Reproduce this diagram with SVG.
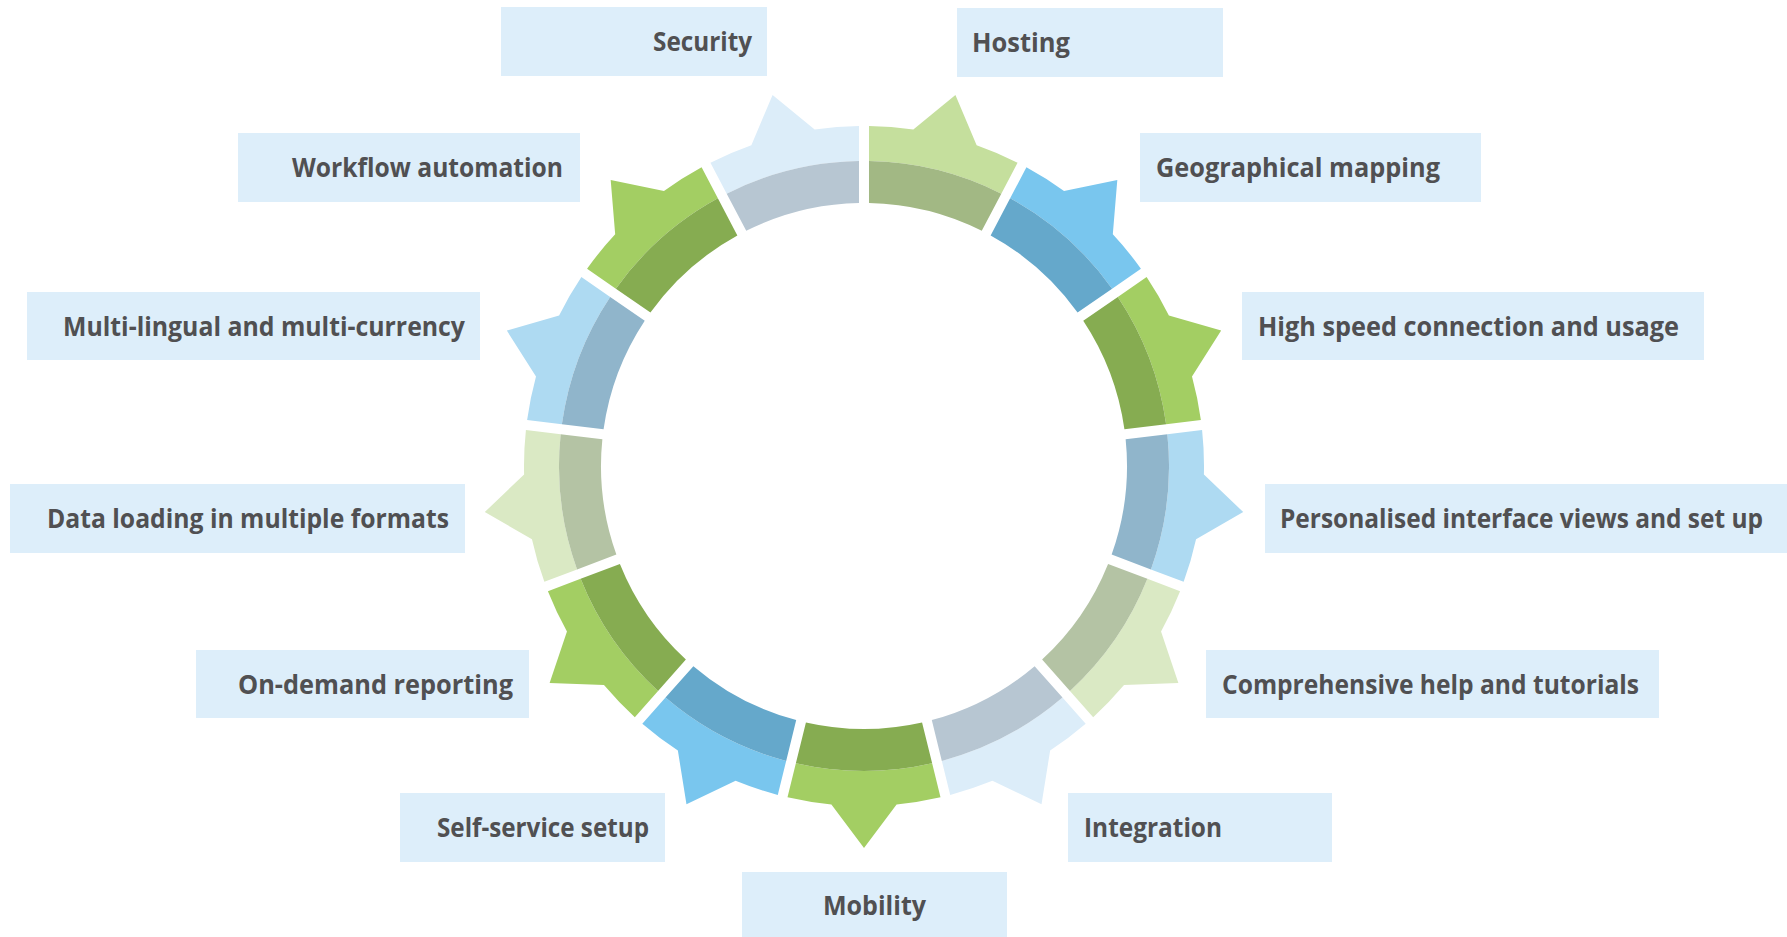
<svg xmlns="http://www.w3.org/2000/svg" xmlns:xlink="http://www.w3.org/1999/xlink" width="1787" height="937" viewBox="0 0 1787 937">
<style>
.box{fill:#DDEEFA}
.lbl{font-family:"Open Sans","Noto Sans","Liberation Sans",sans-serif;font-weight:700;font-size:27px;fill:#505052}
.l{text-anchor:end}
.r{text-anchor:start}
.c{text-anchor:middle}
.gA .lt{fill:#DCEDF9}.gA .dk{fill:#B7C6D2}
.gB .lt{fill:#C5DF9D}.gB .dk{fill:#A2B884}
.gC .lt{fill:#79C6EE}.gC .dk{fill:#65A8CB}
.gD .lt{fill:#A3CE63}.gD .dk{fill:#86AC51}
.gE .lt{fill:#AEDAF2}.gE .dk{fill:#90B5CB}
.gF .lt{fill:#DAE9C4}.gF .dk{fill:#B4C3A4}
</style>
<defs>
<path id="dark" d="M-58.07,-256.51 L-68.13,-297.29 A305,305 0 0 1 68.13,-297.29 L58.07,-256.51 A263,263 0 0 0 -58.07,-256.51 Z"/>
<path id="light" d="M-68.13,-297.29 L-76.5,-331.28 A340,340 0 0 1 -32.59,-338.44 L0,-382 L32.59,-338.44 A340,340 0 0 1 76.5,-331.28 L68.13,-297.29 A305,305 0 0 0 -68.13,-297.29 Z"/>
</defs>
<rect width="1787" height="937" fill="#FFFFFF"/>

<g id="hosting" class="gB">
<g transform="translate(864 466) rotate(13.846)"><use xlink:href="#light" class="lt"/><use xlink:href="#dark" class="dk"/></g>
<rect class="box" x="957" y="8" width="266" height="69"/>
<text class="lbl r" x="972" y="52" textLength="98" lengthAdjust="spacingAndGlyphs">Hosting</text>
</g>
<g id="geographical-mapping" class="gC">
<g transform="translate(864 466) rotate(41.538)"><use xlink:href="#light" class="lt"/><use xlink:href="#dark" class="dk"/></g>
<rect class="box" x="1140" y="133" width="341" height="69"/>
<text class="lbl r" x="1156" y="177" textLength="284" lengthAdjust="spacingAndGlyphs">Geographical mapping</text>
</g>
<g id="high-speed" class="gD">
<g transform="translate(864 466) rotate(69.231)"><use xlink:href="#light" class="lt"/><use xlink:href="#dark" class="dk"/></g>
<rect class="box" x="1242" y="292" width="462" height="68"/>
<text class="lbl r" x="1258" y="336" textLength="421" lengthAdjust="spacingAndGlyphs">High speed connection and usage</text>
</g>
<g id="personalised" class="gE">
<g transform="translate(864 466) rotate(96.923)"><use xlink:href="#light" class="lt"/><use xlink:href="#dark" class="dk"/></g>
<rect class="box" x="1265" y="484" width="522" height="69"/>
<text class="lbl r" x="1280" y="528" textLength="483" lengthAdjust="spacingAndGlyphs">Personalised interface views and set up</text>
</g>
<g id="comprehensive-help" class="gF">
<g transform="translate(864 466) rotate(124.615)"><use xlink:href="#light" class="lt"/><use xlink:href="#dark" class="dk"/></g>
<rect class="box" x="1206" y="650" width="453" height="68"/>
<text class="lbl r" x="1222" y="694" textLength="417" lengthAdjust="spacingAndGlyphs">Comprehensive help and tutorials</text>
</g>
<g id="integration" class="gA">
<g transform="translate(864 466) rotate(152.308)"><use xlink:href="#light" class="lt"/><use xlink:href="#dark" class="dk"/></g>
<rect class="box" x="1068" y="793" width="264" height="69"/>
<text class="lbl r" x="1084" y="837" textLength="138" lengthAdjust="spacingAndGlyphs">Integration</text>
</g>
<g id="mobility" class="gD">
<g transform="translate(864 466) rotate(180)"><use xlink:href="#light" class="lt"/><use xlink:href="#dark" class="dk"/></g>
<rect class="box" x="742" y="872" width="265" height="65"/>
<text class="lbl c" x="874.5" y="915" textLength="103" lengthAdjust="spacingAndGlyphs">Mobility</text>
</g>
<g id="self-service-setup" class="gC">
<g transform="translate(864 466) rotate(207.692)"><use xlink:href="#light" class="lt"/><use xlink:href="#dark" class="dk"/></g>
<rect class="box" x="400" y="793" width="265" height="69"/>
<text class="lbl l" x="649" y="837" textLength="212" lengthAdjust="spacingAndGlyphs">Self-service setup</text>
</g>
<g id="on-demand-reporting" class="gD">
<g transform="translate(864 466) rotate(235.385)"><use xlink:href="#light" class="lt"/><use xlink:href="#dark" class="dk"/></g>
<rect class="box" x="196" y="650" width="333" height="68"/>
<text class="lbl l" x="513" y="694" textLength="275" lengthAdjust="spacingAndGlyphs">On-demand reporting</text>
</g>
<g id="data-loading" class="gF">
<g transform="translate(864 466) rotate(263.077)"><use xlink:href="#light" class="lt"/><use xlink:href="#dark" class="dk"/></g>
<rect class="box" x="10" y="484" width="455" height="69"/>
<text class="lbl l" x="449" y="528" textLength="402" lengthAdjust="spacingAndGlyphs">Data loading in multiple formats</text>
</g>
<g id="multi-lingual" class="gE">
<g transform="translate(864 466) rotate(290.769)"><use xlink:href="#light" class="lt"/><use xlink:href="#dark" class="dk"/></g>
<rect class="box" x="27" y="292" width="453" height="68"/>
<text class="lbl l" x="465" y="336" textLength="402" lengthAdjust="spacingAndGlyphs">Multi-lingual and multi-currency</text>
</g>
<g id="workflow-automation" class="gD">
<g transform="translate(864 466) rotate(318.462)"><use xlink:href="#light" class="lt"/><use xlink:href="#dark" class="dk"/></g>
<rect class="box" x="238" y="133" width="342" height="69"/>
<text class="lbl l" x="563" y="177" textLength="271" lengthAdjust="spacingAndGlyphs">Workflow automation</text>
</g>
<g id="security" class="gA">
<g transform="translate(864 466) rotate(346.154)"><use xlink:href="#light" class="lt"/><use xlink:href="#dark" class="dk"/></g>
<rect class="box" x="501" y="7" width="266" height="69"/>
<text class="lbl l" x="752" y="51" textLength="99" lengthAdjust="spacingAndGlyphs">Security</text>
</g>
</svg>
